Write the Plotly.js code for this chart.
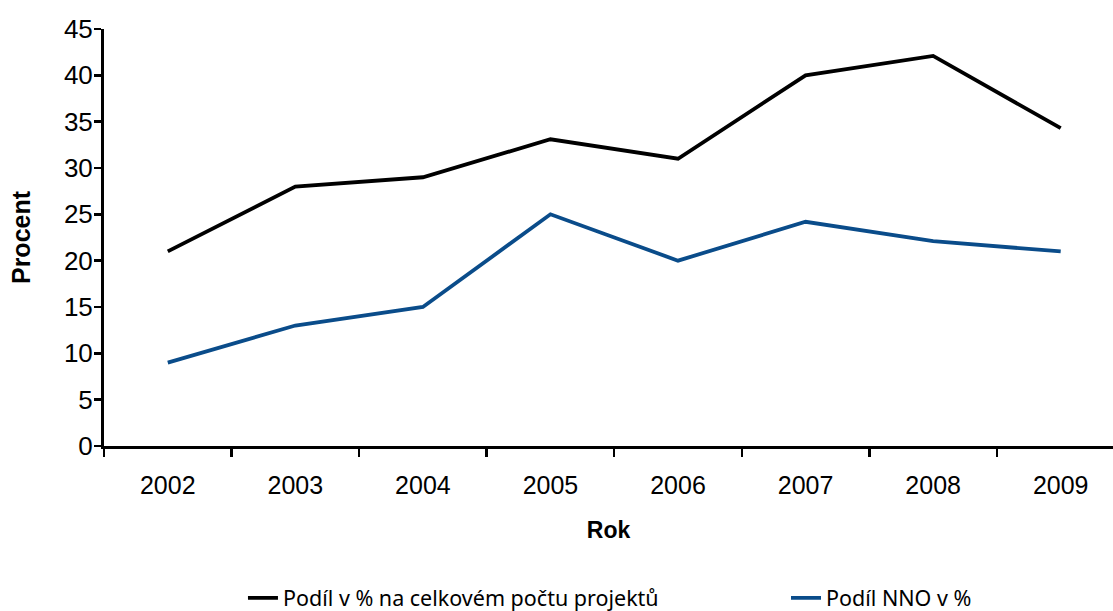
<!DOCTYPE html>
<html>
<head>
<meta charset="utf-8">
<script src="https://cdn.plot.ly/plotly-3.0.1.min.js"></script>
<style>html,body{margin:0;padding:0;background:#fff;}#chart{width:1113px;height:611px;}</style>
</head>
<body>
<div id="chart"></div>
<script>
var years = ["2002","2003","2004","2005","2006","2007","2008","2009"];
var podilProjektu = [21, 28, 29, 33.1, 31, 40, 42.1, 34.3];
var podilNNO = [9, 13, 15, 25, 20, 24.2, 22.1, 21];
var yTicks = [0, 5, 10, 15, 20, 25, 30, 35, 40, 45];
var seriesNames = ["Podíl v % na celkovém počtu projektů", "Podíl NNO v %"];

var traces = [
  {x: years, y: podilProjektu, name: seriesNames[0], type: "scatter", mode: "lines",
   line: {color: "#000000", width: 3.8}, legend: "legend"},
  {x: years, y: podilNNO, name: seriesNames[1], type: "scatter", mode: "lines",
   line: {color: "#0A4C8A", width: 3.8}, legend: "legend2"}
];

var legendFont = {size: 21.5, family: "Noto Sans, sans-serif"};

var layout = {
  width: 1113, height: 611,
  margin: {l: 104, r: 0, t: 29, b: 165},
  paper_bgcolor: "#fff", plot_bgcolor: "#fff",
  font: {family: "Liberation Sans, Arial, sans-serif", color: "#000"},
  xaxis: {
    type: "category", range: [-0.5, 7.41], automargin: false,
    tickson: "boundaries", ticks: "outside", ticklen: 8, tickwidth: 2.5, tickcolor: "#000",
    showline: true, linewidth: 3, linecolor: "#000", showgrid: false, zeroline: false,
    tickfont: {size: 25},
    ticklabelstandoff: 15,
    title: {text: "<b>Rok</b>", font: {size: 23}, standoff: 24}
  },
  yaxis: {
    range: [0, 45], tickvals: yTicks, automargin: false,
    ticks: "outside", ticklen: 7, tickwidth: 2.5, tickcolor: "#000",
    showline: true, linewidth: 3, linecolor: "#000", showgrid: false, zeroline: false,
    tickfont: {size: 26}, ticklabelstandoff: -4,
    title: {text: "<b>Procent</b>", font: {size: 25}, standoff: 27}
  },
  showlegend: true,
  legend: {
    orientation: "h", xref: "container", yref: "container",
    x: 0.2183, xanchor: "left", y: 0.0213, yanchor: "middle",
    font: legendFont, bgcolor: "rgba(0,0,0,0)"
  },
  legend2: {
    orientation: "h", xref: "container", yref: "container",
    x: 0.7062, xanchor: "left", y: 0.0213, yanchor: "middle",
    font: legendFont, bgcolor: "rgba(0,0,0,0)"
  }
};

Plotly.newPlot("chart", traces, layout, {displayModeBar: false, staticPlot: true});
</script>
</body>
</html>
